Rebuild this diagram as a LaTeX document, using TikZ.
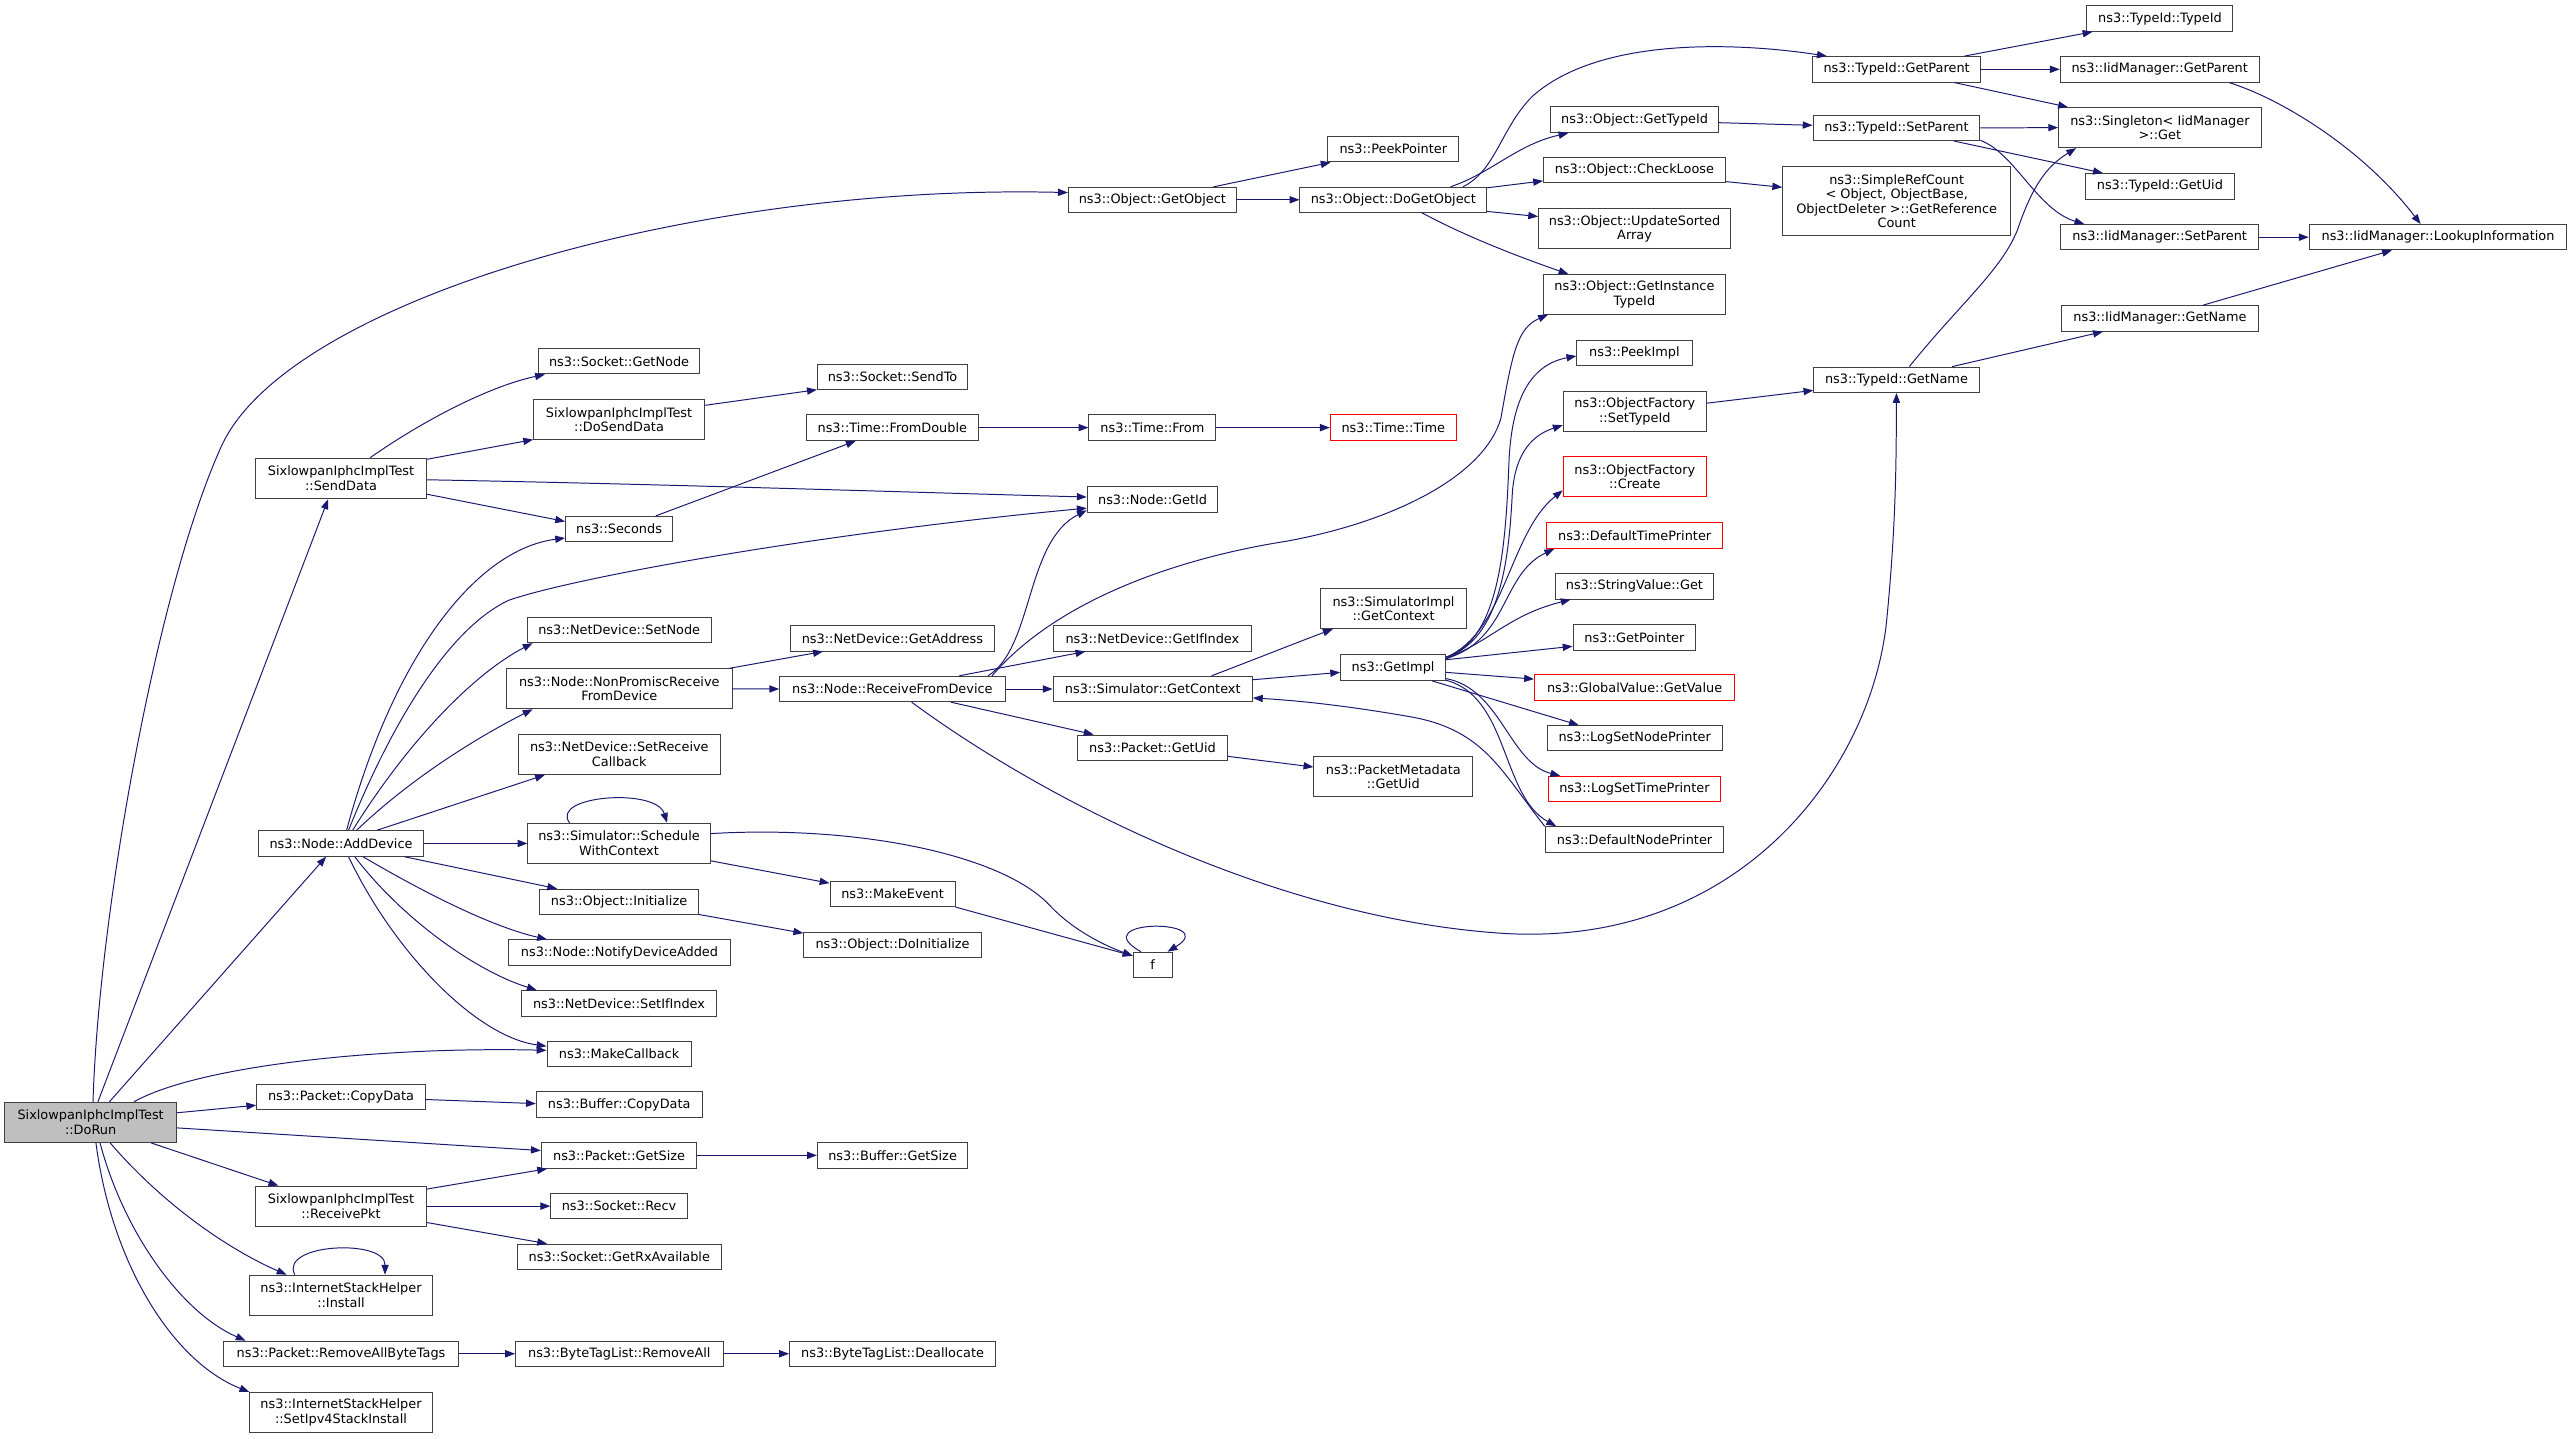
\documentclass[tikz,border=0pt]{standalone}
\usepackage{fontspec}
\setmainfont{DejaVu Sans}
\usetikzlibrary{arrows.meta}
\definecolor{edgecol}{RGB}{25,25,112}
\definecolor{boxcol}{RGB}{64,64,64}
\definecolor{graybg}{RGB}{191,191,191}
\definecolor{redcol}{RGB}{255,0,0}
\tikzset{
 fbox/.style={draw=boxcol, fill=white, line width=0.6pt, inner sep=0pt, align=center,
   font=\fontsize{7.85}{8.9}\selectfont, text=black},
 redbox/.style={draw=redcol},
 rootbox/.style={fill=graybg},
 edge/.style={draw=edgecol, line width=0.6pt, -{Triangle[length=6pt,width=4.4pt]}},
}
\newcommand{\gnode}[7][]{\node[fbox,#1,minimum width={(#5-#3)*1pt},minimum height={(#6-#4)*1pt}] (#2) at ({(#3+#5)/2},{(#4+#6)/2}) {#7};}
\begin{document}
\begin{tikzpicture}[x=1pt,y=-1pt]
\useasboundingbox[fill=white] (0,0) rectangle (1568,877.27);
% nodes
\gnode[rootbox]{dorun}{3}{672}{107.5}{696.5}{SixlowpanIphcImplTest\\::DoRun}
\gnode{getobject}{651.3}{114.2}{753.8}{129.4}{ns3::Object::GetObject}
\gnode{peekpointer}{809.5}{83.1}{889.3}{98.7}{ns3::PeekPointer}
\gnode{dogetobject}{792.5}{114.2}{906.3}{129.4}{ns3::Object::DoGetObject}
\gnode{tgetparent}{1105}{34.5}{1207.5}{50}{ns3::TypeId::GetParent}
\gnode{ttypeid}{1272.3}{3.5}{1361.3}{19.1}{ns3::TypeId::TypeId}
\gnode{igetparent}{1256}{34.5}{1377.3}{50}{ns3::IidManager::GetParent}
\gnode{singleton}{1255}{65.6}{1378.5}{90}{ns3::Singleton< IidManager\\>::Get}
\gnode{tsetparent}{1105.3}{70.3}{1207}{85.7}{ns3::TypeId::SetParent}
\gnode{ogettypeid}{945.3}{65.2}{1047.8}{80.8}{ns3::Object::GetTypeId}
\gnode{tgetuid}{1271.5}{105.8}{1362}{121.5}{ns3::TypeId::GetUid}
\gnode{checkloose}{941}{96.1}{1051.8}{111.5}{ns3::Object::CheckLoose}
\gnode{srefcount}{1086.8}{101.4}{1225.8}{143.8}{ns3::SimpleRefCount\\< Object, ObjectBase,\\ObjectDeleter >::GetReference\\Count}
\gnode{updsorted}{938}{127.4}{1055}{151.7}{ns3::Object::UpdateSorted\\Array}
\gnode{isetparent}{1256.3}{136.9}{1377}{152.3}{ns3::IidManager::SetParent}
\gnode{lookup}{1407.8}{136.9}{1564.8}{152.3}{ns3::IidManager::LookupInformation}
\gnode{getinst}{941}{167.4}{1051.8}{191.5}{ns3::Object::GetInstance\\TypeId}
\gnode{igetname}{1256.8}{186.3}{1376.8}{201.9}{ns3::IidManager::GetName}
\gnode{peekimpl}{961.3}{207.4}{1031.5}{223}{ns3::PeekImpl}
\gnode{getnode}{328.3}{212.5}{426.5}{228}{ns3::Socket::GetNode}
\gnode{sendto}{498.3}{222.2}{590}{237.7}{ns3::Socket::SendTo}
\gnode{tgetname}{1105.8}{223.8}{1206.5}{239.3}{ns3::TypeId::GetName}
\gnode{dosend}{325.3}{243.5}{429.5}{268.1}{SixlowpanIphcImplTest\\::DoSendData}
\gnode{ofsettype}{953}{238.5}{1040.3}{263.3}{ns3::ObjectFactory\\::SetTypeId}
\gnode{fromdouble}{491.5}{252.9}{596.5}{268.5}{ns3::Time::FromDouble}
\gnode{timefrom}{663.8}{252.9}{741.3}{268.5}{ns3::Time::From}
\gnode[redbox]{timetime}{811}{252.9}{887.8}{268.5}{ns3::Time::Time}
\gnode{senddata}{155.8}{279.3}{260}{304.1}{SixlowpanIphcImplTest\\::SendData}
\gnode[redbox]{ofcreate}{953}{278.3}{1040.3}{302.9}{ns3::ObjectFactory\\::Create}
\gnode{getid}{662.8}{296.6}{742.5}{312.4}{ns3::Node::GetId}
\gnode{seconds}{344.8}{314.8}{410}{330.3}{ns3::Seconds}
\gnode[redbox]{deftime}{942.8}{318.7}{1050.3}{334.3}{ns3::DefaultTimePrinter}
\gnode{strget}{948}{349.8}{1044.8}{365.2}{ns3::StringValue::Get}
\gnode{simimpl}{805.3}{359}{893.8}{383.3}{ns3::SimulatorImpl\\::GetContext}
\gnode{setnode}{321.5}{376.2}{433.5}{391.8}{ns3::NetDevice::SetNode}
\gnode{getaddr}{481.8}{381.3}{606.3}{396.9}{ns3::NetDevice::GetAddress}
\gnode{getifindex}{642.3}{381.3}{762.8}{396.9}{ns3::NetDevice::GetIfIndex}
\gnode{getpointer}{959}{380.7}{1033.8}{396.3}{ns3::GetPointer}
\gnode{getimpl}{817.3}{399.3}{881.3}{414.8}{ns3::GetImpl}
\gnode{nonprom}{308.8}{407.7}{446.3}{432.1}{ns3::Node::NonPromiscReceive\\FromDevice}
\gnode{rfd}{475.3}{412.3}{612.8}{427.8}{ns3::Node::ReceiveFromDevice}
\gnode{simgetctx}{642}{412.3}{763.5}{427.8}{ns3::Simulator::GetContext}
\gnode[redbox]{gvgetvalue}{935.5}{411.3}{1057.5}{426.8}{ns3::GlobalValue::GetValue}
\gnode{logsetnode}{943.3}{442.4}{1049.8}{457.8}{ns3::LogSetNodePrinter}
\gnode{setrecvcb}{315.8}{447.7}{439.3}{472.1}{ns3::NetDevice::SetReceive\\Callback}
\gnode{pgetuid}{657}{448.1}{748.3}{463.7}{ns3::Packet::GetUid}
\gnode{pmgetuid}{801}{461.3}{897.8}{485.7}{ns3::PacketMetadata\\::GetUid}
\gnode[redbox]{logsettime}{944}{473.3}{1048.8}{488.7}{ns3::LogSetTimePrinter}
\gnode{schedule}{321.8}{501.9}{433}{526.5}{ns3::Simulator::Schedule\\WithContext}
\gnode{adddevice}{157.5}{506.4}{258.3}{522}{ns3::Node::AddDevice}
\gnode{defnode}{942}{504}{1051}{519.6}{ns3::DefaultNodePrinter}
\gnode{makeevent}{506}{537.5}{582.3}{552.7}{ns3::MakeEvent}
\gnode{initialize}{329}{542.1}{425.8}{557.6}{ns3::Object::Initialize}
\gnode{doinit}{490}{568.3}{598.3}{584}{ns3::Object::DoInitialize}
\gnode{notify}{310}{573}{445.3}{588.7}{ns3::Node::NotifyDeviceAdded}
\gnode{f}{690.8}{580.5}{714.5}{596}{f}
\gnode{setifindex}{317.8}{603.9}{437}{619.5}{ns3::NetDevice::SetIfIndex}
\gnode{makecb}{333.5}{634.8}{421.3}{650.4}{ns3::MakeCallback}
\gnode{pcopy}{156.5}{661}{259.3}{676.6}{ns3::Packet::CopyData}
\gnode{bcopy}{327}{665.6}{428}{681.3}{ns3::Buffer::CopyData}
\gnode{pgetsize}{330}{696.5}{424.8}{712.2}{ns3::Packet::GetSize}
\gnode{bgetsize}{498.3}{696.5}{590}{712.2}{ns3::Buffer::GetSize}
\gnode{recvpkt}{155.8}{723.1}{260}{747.5}{SixlowpanIphcImplTest\\::ReceivePkt}
\gnode{recv}{335.8}{727.6}{419}{743}{ns3::Socket::Recv}
\gnode{rxavail}{315.3}{758.5}{439.8}{773.9}{ns3::Socket::GetRxAvailable}
\gnode{install}{152.3}{777.4}{263.5}{801.9}{ns3::InternetStackHelper\\::Install}
\gnode{rmbytetags}{136.3}{817.6}{279.5}{833}{ns3::Packet::RemoveAllByteTags}
\gnode{btlrm}{314.3}{817.6}{440.8}{833}{ns3::ByteTagList::RemoveAll}
\gnode{dealloc}{481.3}{817.6}{607}{833}{ns3::ByteTagList::Deallocate}
\gnode{setipv4}{152.3}{848.9}{263.5}{873.4}{ns3::InternetStackHelper\\::SetIpv4StackInstall}
% edges from DoRun
\draw[edge] ([xshift=54pt]dorun.north west) .. controls (60,560) and (95,360) .. (135,272) .. controls (175,184) and (420,112) .. ([yshift=4.4pt]getobject.west);
\draw[edge] ([xshift=57pt]dorun.north west) -- ([xshift=-7.9pt]senddata.south);
\draw[edge] ([xshift=64pt]dorun.north west) -- ([xshift=-9.1pt]adddevice.south);
\draw[edge] ([xshift=79pt]dorun.north west) .. controls (120,650) and (230,638) .. ([yshift=2.3pt]makecb.west);
\draw[edge] ([yshift=5.85pt]dorun.east) -- ([yshift=-5pt]pcopy.west);
\draw[edge] ([yshift=-3.35pt]dorun.east) -- ([yshift=2.95pt]pgetsize.west);
\draw[edge] ([xshift=89.5pt]dorun.south west) -- ([xshift=14.2pt]recvpkt.north west);
\draw[edge] ([xshift=64.5pt]dorun.south west) .. controls (100,735) and (140,762) .. ([xshift=22.7pt]install.north west);
\draw[edge] ([xshift=58.3pt]dorun.south west) .. controls (75,750) and (110,800) .. ([xshift=13.7pt]rmbytetags.north west);
\draw[edge] ([xshift=55.8pt]dorun.south west) .. controls (68,770) and (105,830) .. (setipv4.north west);
% SendData
\draw[edge] ([xshift=70.2pt]senddata.north west) .. controls (260,255) and (300,235) .. ([xshift=4.2pt]getnode.south west);
\draw[edge] ([yshift=-1pt]senddata.north east) -- ([yshift=0.4pt]dosend.south west);
\draw[edge] ([yshift=-0.8pt]senddata.east) .. controls (400,295) and (550,300) .. ([yshift=1.5pt]getid.west);
\draw[edge] ([yshift=3.1pt]senddata.south east) -- ([yshift=4.65pt]seconds.west);
\draw[edge] ([yshift=-3.9pt]dosend.north east) -- ([yshift=0.4pt]sendto.south west);
\draw[edge] ([xshift=-10.5pt]seconds.north east) -- ([xshift=30.5pt]fromdouble.south west);
\draw[edge] (fromdouble.east) -- (timefrom.west);
\draw[edge] (timefrom.east) -- (timetime.west);
% AddDevice
\draw[edge] ([xshift=3.4pt]adddevice.north) .. controls (240,400) and (290,335) .. ([yshift=-5.45pt]seconds.west);
\draw[edge] ([xshift=4.6pt]adddevice.north) .. controls (235,450) and (270,385) .. (310,366) .. controls (350,352) and (500,325) .. ([yshift=-5.3pt]getid.west);
\draw[edge] ([xshift=7.1pt]adddevice.north) .. controls (250,450) and (290,410) .. ([xshift=3.5pt]setnode.south west);
\draw[edge] ([xshift=9.6pt]adddevice.north) .. controls (250,475) and (290,450) .. ([xshift=16.2pt]nonprom.south west);
\draw[edge] ([xshift=22.1pt]adddevice.north) -- ([xshift=16.7pt]setrecvcb.south west);
\draw[edge] (adddevice.east) -- (schedule.west);
\draw[edge] ([xshift=-12pt]adddevice.south east) -- ([xshift=11pt]initialize.north west);
\draw[edge] ([xshift=13.4pt]adddevice.south) .. controls (260,545) and (300,565) .. ([xshift=23.8pt]notify.north west);
\draw[edge] ([xshift=8.4pt]adddevice.south) .. controls (245,560) and (290,592) .. ([xshift=9.7pt]setifindex.north west);
\draw[edge] ([xshift=4.6pt]adddevice.south) .. controls (240,580) and (290,632) .. ([yshift=4.8pt]makecb.west);
% Schedule etc
\draw[edge] ([xshift=25.7pt]schedule.north west) .. controls (335,485) and (400,480) .. ([xshift=85.2pt]schedule.north west);
\draw[edge] ([yshift=6pt]schedule.east) .. controls (520,503) and (610,520) .. (640,552) .. controls (655,568) and (675,577) .. ([yshift=-2.5pt]f.north west);
\draw[edge] ([yshift=2pt]schedule.south east) -- ([yshift=-1.2pt]makeevent.north west);
\draw[edge] ([yshift=0.4pt]initialize.south east) -- ([yshift=-0.9pt]doinit.north west);
\draw[edge] (makeevent.south east) -- ([yshift=-2.5pt]f.north west);
\draw[edge] ([xshift=5pt]f.north west) .. controls (660,560) and (745,560) .. ([xshift=-3pt]f.north east);
% ReceiveFromDevice
\draw[edge] ([xshift=-1.8pt]nonprom.north east) -- ([xshift=20.2pt]getaddr.south west);
\draw[edge] (nonprom.east) -- (rfd.west);
\draw[edge] ([xshift=-10.8pt]rfd.north east) .. controls (630,395) and (625,330) .. ([yshift=1.6pt]getid.south west);
\draw[edge] ([xshift=-8.3pt]rfd.north east) .. controls (645,365) and (720,340) .. (784,330) .. controls (850,318) and (905,290) .. (915,255) .. controls (922,215) and (925,200) .. ([xshift=3pt]getinst.south west);
\draw[edge] ([xshift=-28.3pt]rfd.north east) -- ([xshift=19.7pt]getifindex.south west);
\draw[edge] (rfd.east) -- (simgetctx.west);
\draw[edge] ([xshift=-33.3pt]rfd.south east) -- ([xshift=10pt]pgetuid.north west);
\draw[edge] ([xshift=11.75pt]rfd.south) .. controls (640,490) and (780,560) .. (916,569) .. controls (1060,578) and (1140,470) .. (1150,380) .. controls (1156,320) and (1156,280) .. (tgetname.south);
\draw[edge] ([yshift=-5.2pt]pgetuid.east) -- ([yshift=5.9pt]pmgetuid.west);
\draw[edge] ([xshift=-25.2pt]simgetctx.north east) .. controls (770,400) and (795,390) .. ([xshift=7.5pt]simimpl.south west);
\draw[edge] ([yshift=5.65pt]simgetctx.east) -- ([yshift=-2.85pt]getimpl.west);
\draw[edge] (defnode.north west) .. controls (915,470) and (905,445) .. (860,437) .. controls (820,430) and (790,427) .. ([yshift=-5.45pt]simgetctx.east);
% GetImpl fan
\draw[edge] ([yshift=-1.7pt]getimpl.north east) .. controls (915,390) and (918,330) .. (920,280) .. controls (922,240) and (935,222) .. ([yshift=-1.8pt]peekimpl.west);
\draw[edge] ([yshift=-1.7pt]getimpl.north east) .. controls (915,390) and (920,340) .. (922,300) .. controls (924,275) and (935,265) .. ([yshift=4.4pt]ofsettype.south west);
\draw[edge] ([yshift=-1.7pt]getimpl.north east) .. controls (918,385) and (920,325) .. ([yshift=4.3pt]ofcreate.south west);
\draw[edge] ([yshift=-2.5pt]getimpl.north east) .. controls (920,390) and (915,350) .. ([xshift=5pt]deftime.south west);
\draw[edge] ([yshift=-2.5pt]getimpl.north east) .. controls (910,390) and (920,375) .. ([xshift=9.8pt]strget.south west);
\draw[edge] ([yshift=4.85pt]getimpl.east) -- ([yshift=-5.5pt]getpointer.west);
\draw[edge] ([yshift=-2.85pt]getimpl.east) -- ([yshift=5.05pt]gvgetvalue.west);
\draw[edge] ([xshift=-8.5pt]getimpl.south east) -- ([xshift=19.5pt]logsetnode.north west);
\draw[edge] ([yshift=1.4pt]getimpl.south east) .. controls (915,420) and (920,465) .. ([xshift=7.5pt]logsettime.north west);
\draw[edge] ([yshift=0.4pt]getimpl.south east) .. controls (920,425) and (915,485) .. ([xshift=7pt]defnode.north west);
% GetObject group
\draw[edge] ([xshift=-14.3pt]getobject.north east) -- ([xshift=2pt]peekpointer.south west);
\draw[edge] (getobject.east) -- (dogetobject.west);
\draw[edge] ([xshift=-14.8pt]dogetobject.north east) .. controls (912,104) and (915,78) .. (934,58.9) .. controls (975,22) and (1060,26) .. ([xshift=9pt]tgetparent.north west);
\draw[edge] ([xshift=-22.3pt]dogetobject.north east) .. controls (910,105) and (925,88) .. ([xshift=11.2pt]ogettypeid.south west);
\draw[edge] ([yshift=-0.6pt]dogetobject.north east) -- ([yshift=-6.5pt]checkloose.west);
\draw[edge] ([yshift=0.8pt]dogetobject.south east) -- ([yshift=7.55pt]updsorted.west);
\draw[edge] ([xshift=-39.8pt]dogetobject.south east) .. controls (895,145) and (930,158) .. ([xshift=15.5pt]getinst.north west);
\draw[edge] ([yshift=-1.8pt]ogettypeid.east) -- ([yshift=1.6pt]tsetparent.west);
\draw[edge] ([yshift=-6.9pt]checkloose.east) -- ([yshift=8.4pt]srefcount.west);
\draw[edge] ([yshift=5.1pt]ofsettype.east) -- ([yshift=-6.45pt]tgetname.west);
\draw[edge] ([xshift=7.85pt]tgetname.north) .. controls (1195,185) and (1220,165) .. (1230,140) .. controls (1240,110) and (1250,100) .. ([xshift=11pt]singleton.south west);
\draw[edge] ([xshift=-16.7pt]tgetname.north east) -- ([xshift=25.5pt]igetname.south west);
\draw[edge] ([xshift=86.7pt]igetname.north west) -- ([xshift=50.7pt]lookup.south west);
\draw[edge] (isetparent.east) -- (lookup.west);
\draw[edge] ([xshift=-18.8pt]igetparent.south east) .. controls (1390,60) and (1440,90) .. ([xshift=68.2pt]lookup.north west);
\draw[edge] ([xshift=-10.2pt]tgetparent.north east) -- ([xshift=3.7pt]ttypeid.south west);
\draw[edge] (tgetparent.east) -- (igetparent.west);
\draw[edge] ([xshift=-16.5pt]tgetparent.south east) -- ([xshift=6pt]singleton.north west);
\draw[edge] (tsetparent.east) -- (singleton.west);
\draw[edge] ([xshift=-16pt]tsetparent.south east) -- ([xshift=10.8pt]tgetuid.north west);
\draw[edge] ([yshift=0.4pt]tsetparent.south east) .. controls (1228,93) and (1242,128) .. ([xshift=14.7pt]isetparent.north west);
% lower part
\draw[edge] ([xshift=27.7pt]install.north west) .. controls (170,758) and (235,755) .. ([xshift=82.7pt]install.north west);
\draw[edge] ([yshift=-2.1pt]recvpkt.north east) -- ([xshift=3.8pt]pgetsize.south west);
\draw[edge] (recvpkt.east) -- (recv.west);
\draw[edge] ([yshift=2.5pt]recvpkt.south east) -- ([xshift=18.5pt]rxavail.north west);
\draw[edge] ([yshift=-1.5pt]pcopy.east) -- ([yshift=0.65pt]bcopy.west);
\draw[edge] (pgetsize.east) -- (bgetsize.west);
\draw[edge] (rmbytetags.east) -- (btlrm.west);
\draw[edge] (btlrm.east) -- (dealloc.west);
\end{tikzpicture}
\end{document}
